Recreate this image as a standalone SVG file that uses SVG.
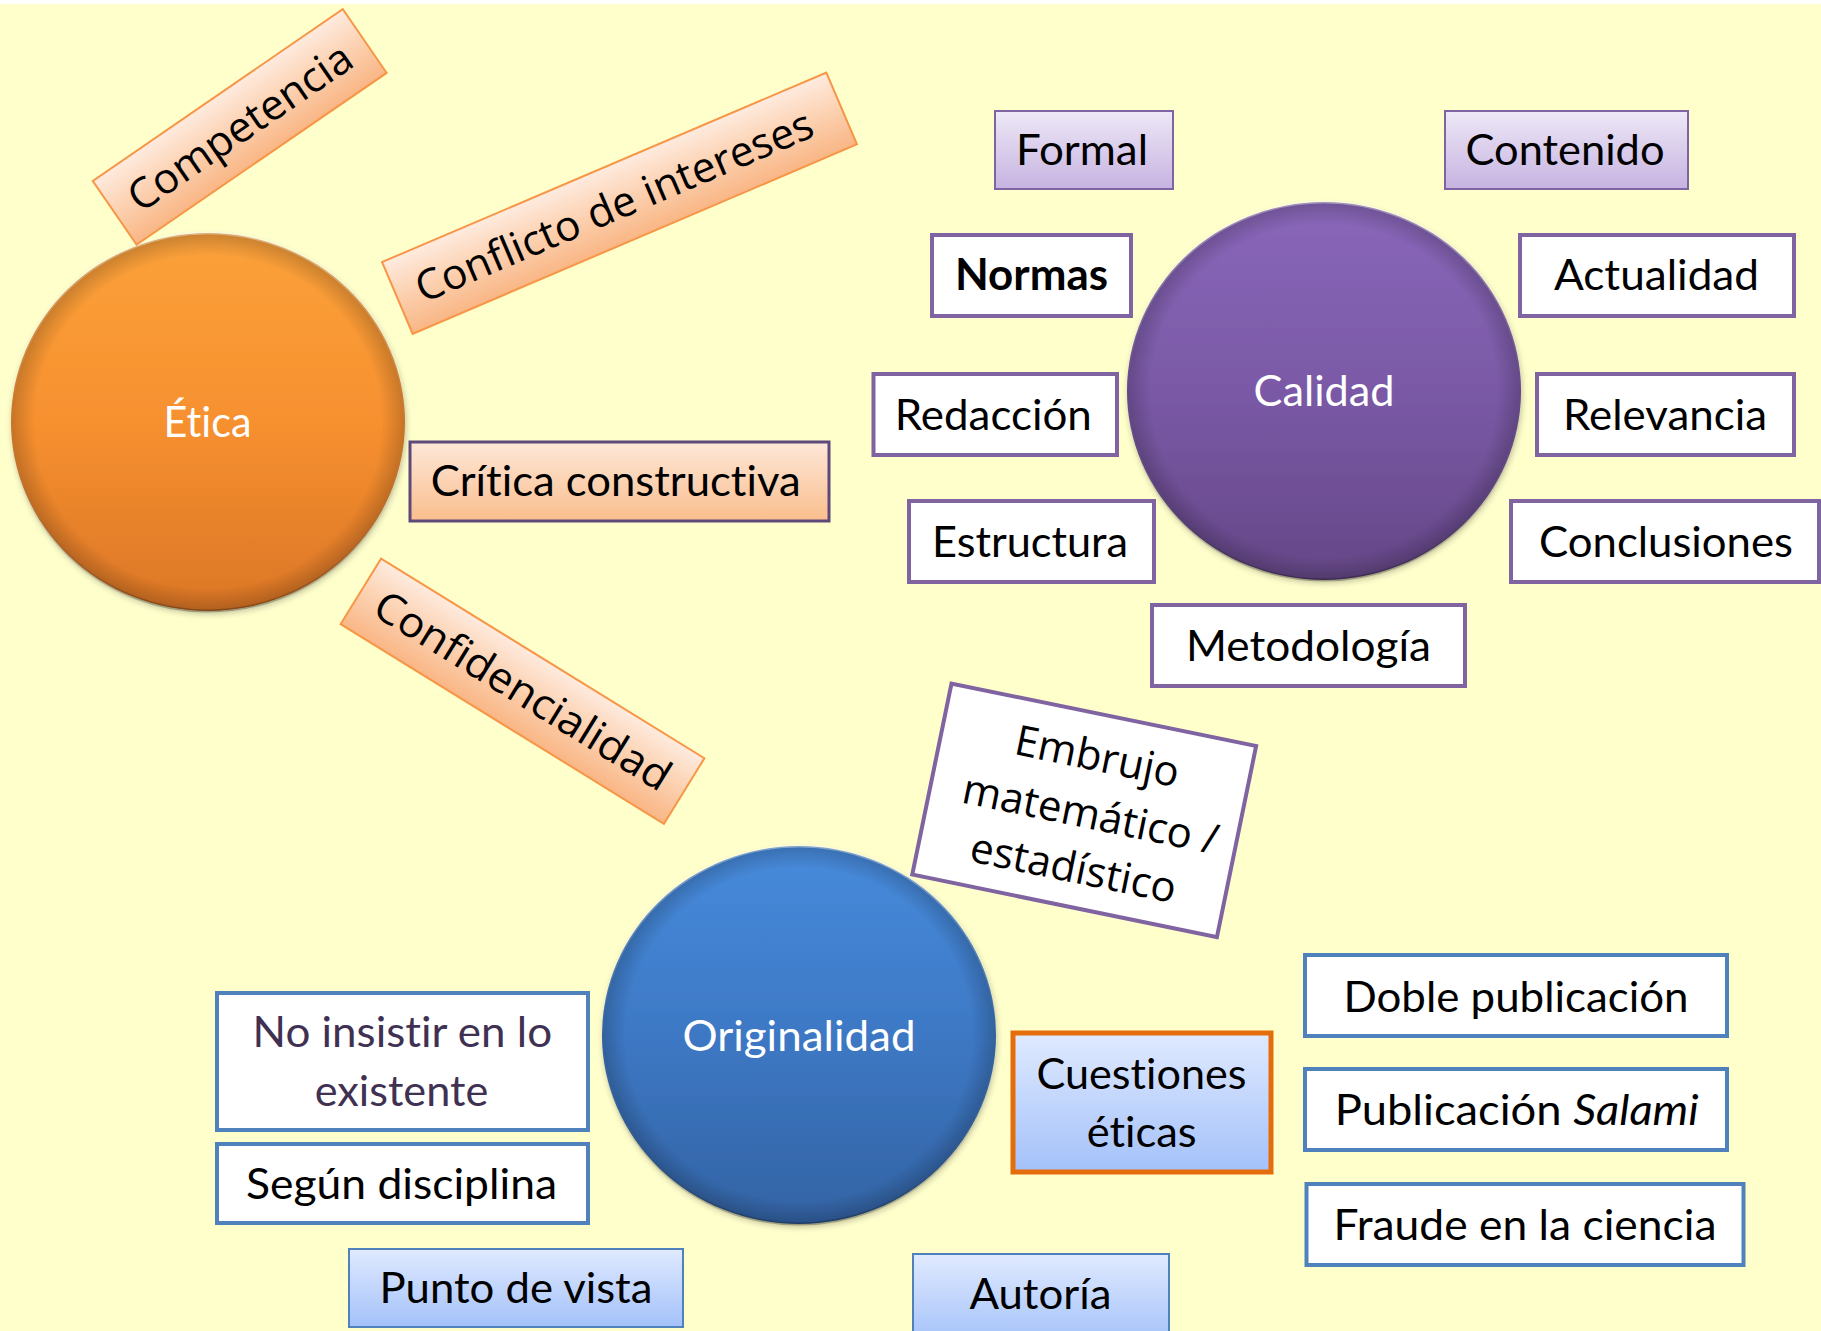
<svg xmlns="http://www.w3.org/2000/svg" width="1821" height="1331" viewBox="0 0 1821 1331">
<defs>
<linearGradient id="gEtica" x1="0" y1="0" x2="0" y2="1"><stop offset="0" stop-color="#FBA23B"/><stop offset="0.5" stop-color="#F7902F"/><stop offset="1" stop-color="#DB7627"/></linearGradient>
<linearGradient id="gCal" x1="0" y1="0" x2="0" y2="1"><stop offset="0" stop-color="#8A67BA"/><stop offset="0.5" stop-color="#7A59A6"/><stop offset="1" stop-color="#654787"/></linearGradient>
<linearGradient id="gOri" x1="0" y1="0" x2="0" y2="1"><stop offset="0" stop-color="#478BDC"/><stop offset="0.5" stop-color="#3D78C4"/><stop offset="1" stop-color="#3363A4"/></linearGradient>
<radialGradient id="gRim" cx="0.5" cy="0.5" r="0.5"><stop offset="0.88" stop-color="#000" stop-opacity="0"/><stop offset="1" stop-color="#000" stop-opacity="0.2"/></radialGradient>
<linearGradient id="gRimStroke" x1="0" y1="0" x2="0" y2="1"><stop offset="0" stop-color="#fff" stop-opacity="0.35"/><stop offset="0.5" stop-color="#fff" stop-opacity="0"/><stop offset="1" stop-color="#000" stop-opacity="0.25"/></linearGradient>
<linearGradient id="gOrg" x1="0" y1="0" x2="0" y2="1"><stop offset="0" stop-color="#FEEBDF"/><stop offset="0.45" stop-color="#FCD3B4"/><stop offset="1" stop-color="#F9B685"/></linearGradient>
<linearGradient id="gOrg2" x1="0" y1="0" x2="0" y2="1"><stop offset="0" stop-color="#FDE7D8"/><stop offset="1" stop-color="#FABE8D"/></linearGradient>
<linearGradient id="gLav" x1="0" y1="0" x2="0" y2="1"><stop offset="0" stop-color="#EDE8F6"/><stop offset="1" stop-color="#C6B3E1"/></linearGradient>
<linearGradient id="gBlue" x1="0" y1="0" x2="0" y2="1"><stop offset="0" stop-color="#E0EAFF"/><stop offset="1" stop-color="#A3C1F9"/></linearGradient>
<filter id="sh" x="-10%" y="-10%" width="120%" height="120%"><feGaussianBlur in="SourceAlpha" stdDeviation="3"/><feOffset dx="1" dy="3"/><feComponentTransfer><feFuncA type="linear" slope="0.25"/></feComponentTransfer><feMerge><feMergeNode/><feMergeNode in="SourceGraphic"/></feMerge></filter>
</defs>
<style>
text{font-variant-ligatures:none;font-feature-settings:"liga" 0,"clig" 0,"dlig" 0}
.t{font-family:Lato,"Open Sans","Liberation Sans",sans-serif;font-size:43px;fill:#000;text-anchor:middle}
.c{font-family:Lato,"Open Sans","Liberation Sans",sans-serif;font-size:43px;fill:#fff;text-anchor:middle}
.r{font-family:"Open Sans","Noto Sans","Liberation Sans",sans-serif;font-size:42px;fill:#000;text-anchor:middle}
.pw{fill:#fff;stroke:#8064A2;stroke-width:4}
.bw{fill:#fff;stroke:#4F81BD;stroke-width:4}
.lav{fill:url(#gLav);stroke:#8064A2;stroke-width:2}
.blu{fill:url(#gBlue);stroke:#4F81BD;stroke-width:2}
.org{fill:url(#gOrg);stroke:#F79646;stroke-width:2}
.rim{fill:url(#gRim);stroke:url(#gRimStroke);stroke-width:3}
</style>
<rect x="0" y="0" width="1821" height="1331" fill="#FFFFCC"/>
<rect x="0" y="0" width="1821" height="4" fill="#FFFFFF"/>
<g id="connectors"/>

<g id="etica">
<ellipse cx="208" cy="422" rx="197" ry="189" fill="url(#gEtica)" filter="url(#sh)"/>
<ellipse cx="208" cy="422" rx="197" ry="189" class="rim"/>
<text class="c" x="207.5" y="437" textLength="88" lengthAdjust="spacingAndGlyphs">Ética</text>
</g>
<g id="calidad">
<ellipse cx="1324" cy="391" rx="197" ry="189" fill="url(#gCal)" filter="url(#sh)"/>
<ellipse cx="1324" cy="391" rx="197" ry="189" class="rim"/>
<text class="c" x="1324" y="406" textLength="141" lengthAdjust="spacingAndGlyphs">Calidad</text>
</g>
<g id="originalidad">
<ellipse cx="799" cy="1035" rx="197" ry="189" fill="url(#gOri)" filter="url(#sh)"/>
<ellipse cx="799" cy="1035" rx="197" ry="189" class="rim"/>
<text class="c" x="799" y="1051" textLength="233" lengthAdjust="spacingAndGlyphs">Originalidad</text>
</g>

<g id="competencia" transform="translate(239.7,126.9) rotate(-34.5)">
<rect x="-151.7" y="-38.7" width="303.4" height="77.4" class="org"/>
<text class="r" x="0" y="15" textLength="262" lengthAdjust="spacingAndGlyphs">Competencia</text>
</g>
<g id="conflicto" transform="translate(619.5,203.2) rotate(-23.1)">
<rect x="-241.5" y="-39" width="483" height="78" class="org"/>
<text class="r" x="-6" y="15" textLength="428" lengthAdjust="spacingAndGlyphs">Conflicto de intereses</text>
</g>
<g id="confidencialidad" transform="translate(522.5,691.2) rotate(31.7)">
<rect x="-190" y="-38.5" width="380" height="77" class="org"/>
<text class="r" x="0" y="14" textLength="340" lengthAdjust="spacingAndGlyphs">Confidencialidad</text>
</g>
<g id="critica">
<rect x="410" y="442" width="419" height="79" fill="url(#gOrg2)" stroke="#5F497A" stroke-width="3"/>
<text class="t" x="615.7" y="496" textLength="370" lengthAdjust="spacingAndGlyphs">Crítica constructiva</text>
</g>

<g id="formal">
<rect x="995" y="111" width="178" height="78" class="lav"/>
<text class="t" x="1082" y="165" textLength="132" lengthAdjust="spacingAndGlyphs">Formal</text>
</g>
<g id="contenido">
<rect x="1445" y="111" width="243" height="78" class="lav"/>
<text class="t" x="1565" y="165" textLength="199" lengthAdjust="spacingAndGlyphs">Contenido</text>
</g>
<g id="normas">
<rect x="932" y="235" width="199" height="81" class="pw"/>
<text class="t" x="1031.5" y="290" font-weight="bold" textLength="153" lengthAdjust="spacingAndGlyphs">Normas</text>
</g>
<g id="actualidad">
<rect x="1520" y="235" width="274" height="81" class="pw"/>
<text class="t" x="1656.5" y="290" textLength="205" lengthAdjust="spacingAndGlyphs">Actualidad</text>
</g>
<g id="redaccion">
<rect x="873.5" y="374" width="243.5" height="81" class="pw"/>
<text class="t" x="993.3" y="430" textLength="197" lengthAdjust="spacingAndGlyphs">Redacción</text>
</g>
<g id="relevancia">
<rect x="1537" y="374" width="257" height="81" class="pw"/>
<text class="t" x="1665" y="430" textLength="204" lengthAdjust="spacingAndGlyphs">Relevancia</text>
</g>
<g id="estructura">
<rect x="909" y="501" width="245" height="81" class="pw"/>
<text class="t" x="1030" y="557" textLength="196" lengthAdjust="spacingAndGlyphs">Estructura</text>
</g>
<g id="conclusiones">
<rect x="1511" y="501" width="308" height="81" class="pw"/>
<text class="t" x="1666" y="557" textLength="254" lengthAdjust="spacingAndGlyphs">Conclusiones</text>
</g>
<g id="metodologia">
<rect x="1152" y="605" width="313" height="81" class="pw"/>
<text class="t" x="1308.5" y="661" textLength="245" lengthAdjust="spacingAndGlyphs">Metodología</text>
</g>

<g id="embrujo" transform="translate(1084.2,810.3) rotate(11.6)">
<rect x="-155.5" y="-97.5" width="311" height="195" class="pw"/>
<text class="r" font-size="40" x="2" y="-41">Embrujo</text>
<text class="r" font-size="40" x="7" y="17">matemático /</text>
<text class="r" font-size="40" x="1" y="73">estadístico</text>
</g>

<g id="no-insistir">
<rect x="217" y="993" width="371" height="137" class="bw"/>
<text class="t" x="402.3" y="1047" style="fill:#403152" textLength="299.5" lengthAdjust="spacingAndGlyphs">No insistir en lo</text>
<text class="t" x="401.5" y="1106" style="fill:#403152" textLength="173.5" lengthAdjust="spacingAndGlyphs">existente</text>
</g>
<g id="segun">
<rect x="217" y="1144" width="371" height="79" class="bw"/>
<text class="t" x="401.5" y="1199" textLength="311" lengthAdjust="spacingAndGlyphs">Según disciplina</text>
</g>
<g id="punto">
<rect x="349" y="1249" width="334" height="78" class="blu"/>
<text class="t" x="516" y="1303" textLength="273" lengthAdjust="spacingAndGlyphs">Punto de vista</text>
</g>
<g id="autoria">
<rect x="913" y="1254" width="256" height="90" class="blu"/>
<text class="t" x="1040.4" y="1309" textLength="142" lengthAdjust="spacingAndGlyphs">Autoría</text>
</g>
<g id="cuestiones">
<rect x="1013" y="1033" width="258" height="139" fill="url(#gBlue)" stroke="#E46C0A" stroke-width="5"/>
<text class="t" x="1141.5" y="1089" textLength="210" lengthAdjust="spacingAndGlyphs">Cuestiones</text>
<text class="t" x="1141.7" y="1147" textLength="110" lengthAdjust="spacingAndGlyphs">éticas</text>
</g>
<g id="doble">
<rect x="1305" y="955" width="422" height="81" class="bw"/>
<text class="t" x="1516" y="1012" textLength="345" lengthAdjust="spacingAndGlyphs">Doble publicación</text>
</g>
<g id="salami">
<rect x="1305" y="1069" width="422" height="81" class="bw"/>
<text class="t" x="1516.7" y="1125" textLength="364" lengthAdjust="spacingAndGlyphs">Publicación <tspan font-style="italic">Salami</tspan></text>
</g>
<g id="fraude">
<rect x="1306.5" y="1184" width="437" height="81" class="bw"/>
<text class="t" x="1525" y="1240" textLength="383" lengthAdjust="spacingAndGlyphs">Fraude en la ciencia</text>
</g>
</svg>
